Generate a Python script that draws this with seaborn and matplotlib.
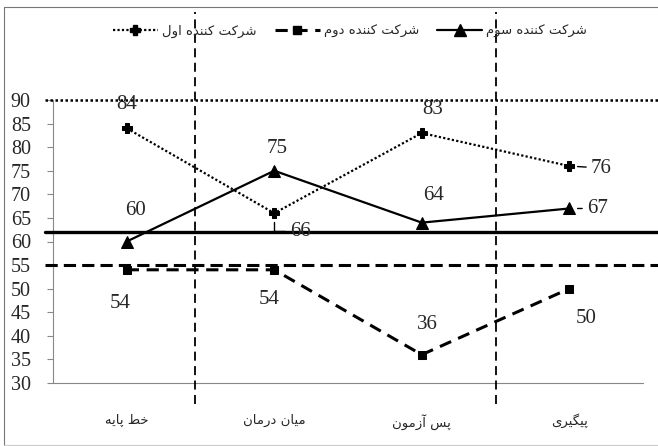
import matplotlib
matplotlib.use("Agg")
import matplotlib.pyplot as plt  # noqa: E402
from matplotlib.lines import Line2D  # noqa: E402
from matplotlib.ticker import FixedLocator  # noqa: E402
import seaborn as sns  # noqa: E402
import pandas as pd  # noqa: E402

# ---------------------------------------------------------------------------
# Dados
# ---------------------------------------------------------------------------
PHASES = ["خط پایه", "میان درمان", "پس آزمون", "پیگیری"]
NAMES = ["شرکت کننده اول", "شرکت کننده دوم", "شرکت کننده سوم"]
P1 = [84, 66, 83, 76]
P2 = [54, 54, 36, 50]
P3 = [60, 75, 64, 67]
REF_LEVELS = [90, 55, 62]          # linha de referencia de cada participante
PHASE_SPLITS = [0.46, 2.5]         # divisores verticais entre fases
Y_TICKS = list(range(30, 91, 5))

# estilos (nao sao dados)
STYLES = [
    {"marker": "P", "ls": (0, (1, 1)), "lw": 1.6, "ms": 7.5},
    {"marker": "s", "ls": (0, (4, 2.5)), "lw": 2.2, "ms": 5.5},
    {"marker": "^", "ls": "-", "lw": 1.6, "ms": 8},
]
REF_STYLES = [
    {"ls": (0, (1, 1)), "lw": 1.8},
    {"ls": (0, (4, 2)), "lw": 2.2},
    {"ls": "-", "lw": 2.4},
]
# deslocamento (px) dos rotulos de valor e tipo de linha-guia
LABEL_OFFSETS = [
    [(0, 24), (26, -18), (11, 24), (32, -2)],
    [(-7, -34), (-5, -30), (6, 30), (17, -30)],
    [(9, 31), (3, 22), (12, 27), (28, 0)],
]
LEADERS = {(0, 1): "angle", (0, 3): "straight", (2, 3): "straight"}

# ---------------------------------------------------------------------------
# Modelagem simples de texto persa (formas contextuais + ordem visual)
# ---------------------------------------------------------------------------
FORMS = {
    "ا": "\uFE8D\uFE8E", "آ": "\uFE81\uFE82",
    "د": "\uFEA9\uFEAA", "ر": "\uFEAD\uFEAE",
    "ز": "\uFEAF\uFEB0", "و": "\uFEED\uFEEE",
    "پ": "\uFB56\uFB57\uFB58\uFB59",
    "ت": "\uFE95\uFE96\uFE97\uFE98",
    "خ": "\uFEA5\uFEA6\uFEA7\uFEA8",
    "س": "\uFEB1\uFEB2\uFEB3\uFEB4",
    "ش": "\uFEB5\uFEB6\uFEB7\uFEB8",
    "ط": "\uFEC1\uFEC2\uFEC3\uFEC4",
    "\u06A9": "\uFB8E\uFB8F\uFB90\uFB91",
    "گ": "\uFB92\uFB93\uFB94\uFB95",
    "ل": "\uFEDD\uFEDE\uFEDF\uFEE0",
    "م": "\uFEE1\uFEE2\uFEE3\uFEE4",
    "ن": "\uFEE5\uFEE6\uFEE7\uFEE8",
    "ه": "\uFEE9\uFEEA\uFEEB\uFEEC",
    "\u06CC": "\uFBFC\uFBFD\uFBFE\uFBFF",
}


def fa(text):
    text = text.replace("\u0643", "\u06A9").replace("\u064A", "\u06CC")
    out = []
    for i, ch in enumerate(text):
        forms = FORMS.get(ch)
        if forms is None:
            out.append(ch)
            continue
        prev = text[i - 1] if i > 0 else ""
        nxt = text[i + 1] if i + 1 < len(text) else ""
        join_prev = prev in FORMS and len(FORMS[prev]) == 4
        join_next = len(forms) == 4 and nxt in FORMS
        out.append(forms[int(join_prev) + 2 * int(join_next)])
    return "".join(reversed(out))


sns.set_style("white")
plt.rcParams["font.family"] = ["Liberation Serif", "DejaVu Sans"]
FA_FONT = ["DejaVu Sans"]

fig = plt.figure(figsize=(6.58, 4.46), dpi=100)
ax = fig.add_axes([53 / 658, 63 / 446, 590 / 658, 283 / 446])

phase_labels = [fa(p) for p in PHASES]
series = [P1, P2, P3]
df = pd.DataFrame({
    "phase": phase_labels * 3,
    "score": P1 + P2 + P3,
    "who": [fa(n) for n in NAMES for _ in PHASES],
})

handles = []
for k, name in enumerate(NAMES):
    st = STYLES[k]
    sub = df[df["who"] == fa(name)]
    sns.lineplot(data=sub, x="phase", y="score", ax=ax, color="black",
                 marker=st["marker"], markersize=st["ms"], linestyle=st["ls"],
                 linewidth=st["lw"], markeredgecolor="black", legend=False,
                 sort=False, clip_on=False, zorder=4)
    handles.append(Line2D([], [], color="black", marker=st["marker"],
                          markersize=st["ms"], linestyle=st["ls"],
                          linewidth=st["lw"]))

# linhas de referencia horizontais
for lvl, rs in zip(REF_LEVELS, REF_STYLES):
    ax.axhline(lvl, xmin=-0.014, xmax=1.03, color="black", linestyle=rs["ls"],
               linewidth=rs["lw"], clip_on=False, zorder=3)

# divisores de fase
for xs in PHASE_SPLITS:
    ax.axvline(xs, ymin=-0.074, ymax=1.31, color="black", linestyle=(0, (5, 3)),
               linewidth=1.3, clip_on=False, zorder=3)

# rotulos de valor
for k, vals in enumerate(series):
    for i, v in enumerate(vals):
        dx, dy = LABEL_OFFSETS[k][i]
        kind = LEADERS.get((k, i))
        arrow = None
        if kind == "straight":
            arrow = dict(arrowstyle="-", color="black", lw=1.0,
                         shrinkA=1, shrinkB=6)
        elif kind == "angle":
            arrow = dict(arrowstyle="-", color="black", lw=1.0,
                         shrinkA=1, shrinkB=6,
                         connectionstyle="angle,angleA=0,angleB=90,rad=0")
        ax.annotate(str(v), xy=(i, v), xytext=(dx, dy),
                    textcoords="offset pixels", ha="center", va="center",
                    fontsize=15, family="Liberation Serif", arrowprops=arrow,
                    zorder=5)

ax.set_xlim(-0.5, 3.5)
ax.set_ylim(30, 90)
ax.set_yticks(Y_TICKS)
ax.set_yticklabels([str(t) for t in Y_TICKS], fontsize=14.5,
                   family="Liberation Serif")
ax.set_xticks(range(len(PHASES)))
ax.set_xticklabels(phase_labels, fontsize=9.5, family=FA_FONT)
ax.xaxis.set_minor_locator(FixedLocator([-0.5, 0.5, 1.5, 2.5, 3.5]))
ax.tick_params(axis="x", which="major", length=0, pad=22)
ax.tick_params(axis="x", which="minor", length=5, color="#888888", width=0.8)
ax.tick_params(axis="y", length=4, color="#888888", width=0.8, pad=12,
               left=True)
ax.set_xlabel("")
ax.set_ylabel("")
for side in ["top", "right"]:
    ax.spines[side].set_visible(False)
for side in ["left", "bottom"]:
    ax.spines[side].set_color("#888888")
    ax.spines[side].set_linewidth(0.8)

leg = ax.legend(handles, [fa(n) for n in NAMES], ncol=3, loc="center",
                bbox_to_anchor=(350 / 658, 1 - 31 / 446),
                bbox_transform=fig.transFigure, frameon=False,
                handlelength=3.4, handletextpad=0.3, columnspacing=1.4,
                prop={"family": FA_FONT, "size": 9.5})

# moldura da figura
fig.add_artist(Line2D([4 / 658, 1], [1 - 7 / 446, 1 - 7 / 446],
                      color="#777777", lw=0.8))
fig.add_artist(Line2D([4 / 658, 4 / 658], [1 / 446, 1 - 7 / 446],
                      color="#777777", lw=0.8))
fig.add_artist(Line2D([4 / 658, 1], [1 / 446, 1 / 446],
                      color="#cccccc", lw=0.8))

fig.savefig("out.png", dpi=100)
plt.close(fig)
